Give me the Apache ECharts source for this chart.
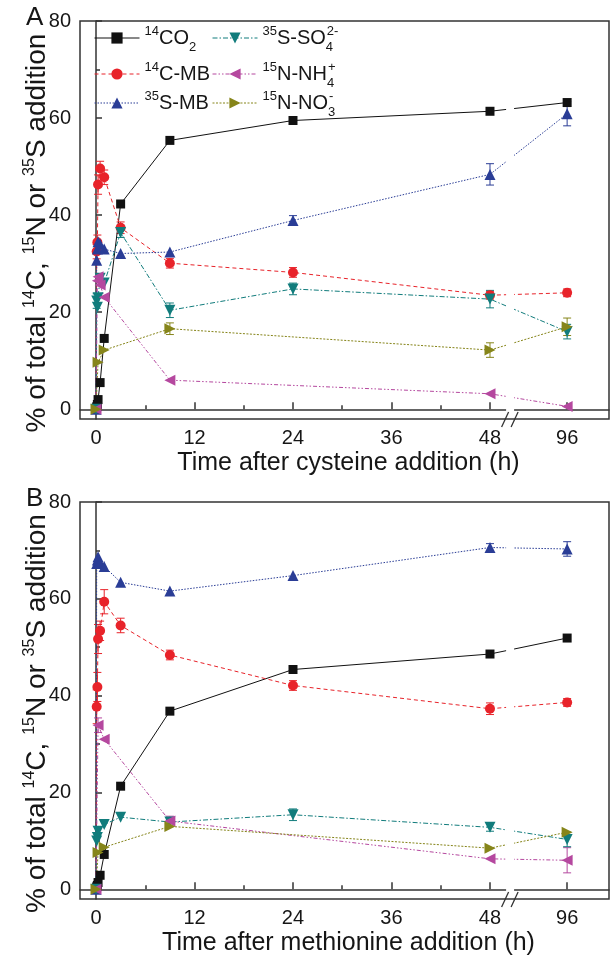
<!DOCTYPE html>
<html>
<head>
<meta charset="utf-8">
<script src="https://cdn.jsdelivr.net/npm/echarts@6.0.0/dist/echarts.min.js"></script>
<style>
html,body{margin:0;padding:0;background:#fff;}
#chart{width:611px;height:957px;}
</style>
</head>
<body>
<div id="chart"></div>
<script>
// ---------------- DATA ----------------
const HOURS = [0, 0.083, 0.167, 0.25, 0.5, 1, 3, 9, 24, 48, 96];
const X_TICK_HOURS = [0, 12, 24, 36, 48, 96];
const X_TICK_LABELS = ['0', '12', '24', '36', '48', '96'];
const X_MINOR_HOURS = [6, 18, 30, 42];
const Y_TICKS = [0, 20, 40, 60, 80];
const Y_MINOR = [10, 30, 50, 70];
const SERIES_NAMES = ['14CO2', '14C-MB', '35S-MB', '35S-SO42-', '15N-NH4+', '15N-NO3-'];

// Panel A: cysteine
const A_CO2 = [0, 0.5, 1.0, 2.0, 5.5, 14.6, 42.3, 55.4, 59.5, 61.4, 63.2];
const A_CMB = [0, 32.5, 34.4, 46.3, 49.6, 47.8, 37.4, 30.1, 28.2, 23.5, 24.0];
const A_SMB = [0, 30.7, 33.0, 34.5, 34.0, 33.0, 32.1, 32.4, 38.9, 48.4, 60.9];
const A_SO4 = [0, 22.3, 21.0, 23.0, 27.0, 26.0, 36.4, 20.4, 24.8, 22.7, 16.0];
const A_NH4 = [0, null, 26.5, 27.3, 25.6, 23.1, null, 6.0, null, 3.2, 0.6];
const A_NO3 = [0, null, null, 9.7, null, 12.2, null, 16.6, null, 12.2, 17.0];
const A_CMB_ERR = [0, 1.5, 1.5, 2.0, 1.5, 1.5, 1.2, 1.0, 1.0, 0.8, 0.8];
const A_SMB_ERR = [0, 0, 0, 0, 0, 0, 0, 0, 1.0, 2.2, 2.5];
const A_SO4_ERR = [0, 1.5, 0, 0, 0, 0, 1.0, 1.5, 1.2, 1.8, 1.5];
const A_NO3_ERR = [0, 0, 0, 0, 0, 0, 0, 1.2, 0, 1.5, 1.8];

// Panel B: methionine
const B_CO2 = [0, 0.5, 0.8, 1.4, 2.9, 7.2, 21.3, 36.8, 45.4, 48.6, 51.9];
const B_CMB = [0, 37.7, 41.8, 51.7, 53.4, 59.4, 54.5, 48.4, 42.1, 37.3, 38.6];
const B_SMB = [0, 67.3, 68.0, 68.7, 67.5, 66.7, 63.4, 61.6, 64.8, 70.6, 70.3];
const B_SO4 = [0, 10.0, 10.7, 12.0, null, 13.4, 14.9, 13.9, 15.4, 12.8, 10.3];
const B_NH4 = [0, null, null, 33.9, null, 31.0, null, 14.1, null, 6.3, 6.0];
const B_NO3 = [0, null, null, 7.6, null, 8.7, null, 13.0, null, 8.5, 11.8];
const B_CMB_ERR = [0, 3.5, 3.0, 3.0, 2.0, 2.5, 1.5, 1.0, 1.0, 1.2, 0.8];
const B_SMB_ERR = [0, 0, 0, 0, 0, 0, 0, 0, 0, 0.8, 1.5];
const B_NH4_ERR = [0, 0, 0, 1.5, 0, 0, 0, 1.0, 0, 0, 2.6];
const B_SO4_ERR = [0, 0, 0, 0, 0, 0, 0, 0, 1.2, 0.8, 1.5];

// ---------------- AXIS BREAK MAPPING ----------------
const BREAK_FROM = 48;
const AFTER_BREAK_SCALE = 9.4 / 48;   // 48..96 h compressed after the break
const BREAK_MARK = 50.45;             // display position of the "//" mark
function disp(t) { return t <= BREAK_FROM ? t : BREAK_FROM + (t - BREAK_FROM) * AFTER_BREAK_SCALE; }
const X_MIN = -1.95, X_MAX = 62.5, Y_MIN = -2, Y_MAX = 80;
const X_TICK_POS = X_TICK_HOURS.map(disp);
const X_MINOR_POS = X_MINOR_HOURS.map(disp);

// ---------------- STYLE ----------------
const FONT = "'Liberation Sans', Arial, Helvetica, sans-serif";
const TXT = '#161616';
const AX = '#333';
const STYLES = {
  '14CO2':     {color: '#111111', symbol: 'rect',     size: 9,  rot: 0,   dash: 'solid'},
  '14C-MB':    {color: '#e8232a', symbol: 'circle',   size: 10, rot: 0,   dash: [4, 3]},
  '35S-MB':    {color: '#2a3d96', symbol: 'triangle', size: 11, rot: 0,   dash: [1.5, 1.5]},
  '35S-SO42-': {color: '#117c7c', symbol: 'triangle', size: 11, rot: 180, dash: [5, 2, 1.5, 2]},
  '15N-NH4+':  {color: '#b5489f', symbol: 'triangle', size: 11, rot: 90,  dash: [4, 2, 1.5, 2, 1.5, 2]},
  '15N-NO3-':  {color: '#86851a', symbol: 'triangle', size: 11, rot: -90, dash: [2, 1.5]}
};
const LEGEND_TEXT = {
  '14CO2':     '{sup|14}{t|CO}{sub|2}',
  '14C-MB':    '{sup|14}{t|C-MB}',
  '35S-MB':    '{sup|35}{t|S-MB}',
  '35S-SO42-': '{sup|35}{t|S-SO}{subz|4}{sup|2-}',
  '15N-NH4+':  '{sup|15}{t|N-NH}{subz|4}{sup|+}',
  '15N-NO3-':  '{sup|15}{t|N-NO}{subz|3}{sup|-}'
};

const chart = echarts.init(document.getElementById('chart'), null, {renderer: 'canvas'});

function lineSeries(name, vals, g) {
  const s = STYLES[name];
  return {
    name: name, type: 'line', xAxisIndex: g * 2, yAxisIndex: g * 2,
    data: HOURS.map((h, i) => vals[i] == null ? null : [disp(h), vals[i]]).filter(d => d),
    symbol: s.symbol, symbolSize: s.size, symbolRotate: s.rot,
    itemStyle: {color: s.color}, lineStyle: {color: s.color, width: 1, type: s.dash},
    animation: false, z: 3
  };
}
function errSeries(name, vals, errs, g) {
  const s = STYLES[name];
  const data = [];
  HOURS.forEach((h, i) => { if (vals[i] != null && errs[i] > 0) data.push([disp(h), vals[i] - errs[i], vals[i] + errs[i]]); });
  return {
    type: 'custom', xAxisIndex: g * 2, yAxisIndex: g * 2, data: data, z: 2, animation: false, silent: true,
    encode: {x: 0, y: [1, 2]},
    renderItem: function (params, api) {
      const x = api.value(0);
      const p1 = api.coord([x, api.value(2)]);
      const p2 = api.coord([x, api.value(1)]);
      const w = 4;
      const st = {stroke: s.color, lineWidth: 1};
      return {type: 'group', children: [
        {type: 'line', shape: {x1: p1[0], y1: p1[1], x2: p2[0], y2: p2[1]}, style: st},
        {type: 'line', shape: {x1: p1[0] - w, y1: p1[1], x2: p1[0] + w, y2: p1[1]}, style: st},
        {type: 'line', shape: {x1: p2[0] - w, y1: p2[1], x2: p2[0] + w, y2: p2[1]}, style: st}
      ]};
    }
  };
}
function breakSeries(g) {
  return {
    type: 'custom', xAxisIndex: g * 2, yAxisIndex: g * 2, data: [[BREAK_MARK, 0]], z: 10, clip: false,
    silent: true, animation: false,
    renderItem: function (params, api) {
      const cs = params.coordSys;
      const xc = api.coord([api.value(0), 0])[0];
      const yb = cs.y + cs.height;
      const st = {stroke: AX, lineWidth: 1.3};
      return {type: 'group', children: [
        {type: 'rect', shape: {x: xc - 4, y: cs.y + 2, width: 8, height: cs.height - 4}, style: {fill: '#fff'}},
        {type: 'line', shape: {x1: xc - 8.5, y1: yb + 8, x2: xc - 1.5, y2: yb - 7}, style: st},
        {type: 'line', shape: {x1: xc + 1, y1: yb + 8, x2: xc + 8, y2: yb - 7}, style: st}
      ]};
    }
  };
}

function xAxes(g, title) {
  return [{
    gridIndex: g, type: 'value', min: X_MIN, max: X_MAX, position: 'bottom',
    name: title, nameLocation: 'middle', nameGap: 32, nameMoveOverlap: false,
    nameTextStyle: {fontSize: 25, color: TXT, fontFamily: FONT, padding: [0, 0, 0, 8]},
    axisLine: {lineStyle: {color: AX, width: 1.5}},
    axisTick: {inside: true, length: 7, customValues: X_TICK_POS, lineStyle: {color: AX, width: 1.5}},
    axisLabel: {customValues: X_TICK_POS, fontSize: 20, color: TXT, fontFamily: FONT, margin: 9,
      formatter: function (v) { const i = X_TICK_POS.findIndex(p => Math.abs(p - v) < 1e-6); return i >= 0 ? X_TICK_LABELS[i] : ''; }},
    splitLine: {show: false}
  }, {
    gridIndex: g, type: 'value', min: X_MIN, max: X_MAX, position: 'bottom',
    axisLine: {show: false},
    axisTick: {inside: true, length: 4, customValues: X_MINOR_POS, lineStyle: {color: AX, width: 1.5}},
    axisLabel: {show: false}, splitLine: {show: false}
  }];
}
const Y_NAME = '{t|% of total }{s|14}{t|C, }{s|15}{t|N or }{s|35}{t|S addition}';
function yAxes(g) {
  return [{
    gridIndex: g, type: 'value', min: Y_MIN, max: Y_MAX, position: 'left',
    name: Y_NAME, nameLocation: 'middle', nameGap: 28, nameRotate: 90, nameMoveOverlap: false,
    nameTextStyle: {padding: [0, 26, 0, 0], rich: {
      t: {fontSize: 28, color: TXT, fontFamily: FONT, lineHeight: 30, verticalAlign: 'middle'},
      s: {fontSize: 16, color: TXT, fontFamily: FONT, lineHeight: 30, verticalAlign: 'top'}
    }},
    axisLine: {lineStyle: {color: AX, width: 1.5}},
    axisTick: {inside: true, length: 6, customValues: Y_TICKS, lineStyle: {color: AX, width: 1.5}},
    axisLabel: {customValues: Y_TICKS, fontSize: 20, color: TXT, fontFamily: FONT, margin: 9},
    splitLine: {show: false}
  }, {
    gridIndex: g, type: 'value', min: Y_MIN, max: Y_MAX, position: 'left',
    axisLine: {show: false},
    axisTick: {inside: true, length: 4, customValues: Y_MINOR, lineStyle: {color: AX, width: 1.5}},
    axisLabel: {show: false}, splitLine: {show: false}
  }];
}

const LEGEND_POS = {
  '14CO2': [94, 38], '14C-MB': [94, 74], '35S-MB': [94, 103],
  '35S-SO42-': [212, 38], '15N-NH4+': [212, 74], '15N-NO3-': [212, 103]
};
const legends = SERIES_NAMES.map(n => ({
  data: [n], left: LEGEND_POS[n][0], top: LEGEND_POS[n][1] - 13, orient: 'vertical',
  padding: 0, itemWidth: 45, itemHeight: 14, itemGap: 0, selectedMode: false,
  lineStyle: {width: 1},
  formatter: function (name) { return LEGEND_TEXT[name]; },
  textStyle: {padding: [0, 0, 0, 0], rich: {
    t: {fontSize: 20, color: TXT, fontFamily: FONT, lineHeight: 26, verticalAlign: 'middle'},
    sup: {fontSize: 13, color: TXT, fontFamily: FONT, lineHeight: 26, verticalAlign: 'top'},
    sub: {fontSize: 13, color: TXT, fontFamily: FONT, lineHeight: 26, verticalAlign: 'bottom', padding: [0, 0, -3, 0]},
    subz: {fontSize: 13, color: TXT, fontFamily: FONT, lineHeight: 26, verticalAlign: 'bottom', padding: [0, 0, -3, 0], width: 1}
  }}
}));

const option = {
  backgroundColor: '#fff',
  animation: false,
  title: [
    {text: 'A', left: 26, top: 5, padding: 0, textStyle: {fontSize: 26, fontWeight: 'normal', color: TXT, fontFamily: FONT}},
    {text: 'B', left: 26, top: 486, padding: 0, textStyle: {fontSize: 26, fontWeight: 'normal', color: TXT, fontFamily: FONT}}
  ],
  legend: legends,
  grid: [
    {left: 80, top: 21, width: 529, height: 398, show: true, borderColor: AX, borderWidth: 1.5, backgroundColor: 'transparent'},
    {left: 80, top: 502, width: 529, height: 399, show: true, borderColor: AX, borderWidth: 1.5, backgroundColor: 'transparent'}
  ],
  xAxis: xAxes(0, 'Time after cysteine addition (h)').concat(xAxes(1, 'Time after methionine addition (h)')),
  yAxis: yAxes(0).concat(yAxes(1)),
  series: [
    lineSeries('14CO2', A_CO2, 0), lineSeries('14C-MB', A_CMB, 0), lineSeries('35S-MB', A_SMB, 0),
    lineSeries('35S-SO42-', A_SO4, 0), lineSeries('15N-NH4+', A_NH4, 0), lineSeries('15N-NO3-', A_NO3, 0),
    errSeries('14C-MB', A_CMB, A_CMB_ERR, 0), errSeries('35S-MB', A_SMB, A_SMB_ERR, 0),
    errSeries('35S-SO42-', A_SO4, A_SO4_ERR, 0), errSeries('15N-NO3-', A_NO3, A_NO3_ERR, 0),
    breakSeries(0),
    lineSeries('14CO2', B_CO2, 1), lineSeries('14C-MB', B_CMB, 1), lineSeries('35S-MB', B_SMB, 1),
    lineSeries('35S-SO42-', B_SO4, 1), lineSeries('15N-NH4+', B_NH4, 1), lineSeries('15N-NO3-', B_NO3, 1),
    errSeries('14C-MB', B_CMB, B_CMB_ERR, 1), errSeries('35S-MB', B_SMB, B_SMB_ERR, 1),
    errSeries('15N-NH4+', B_NH4, B_NH4_ERR, 1), errSeries('35S-SO42-', B_SO4, B_SO4_ERR, 1),
    breakSeries(1)
  ]
};
chart.setOption(option);
</script>
</body>
</html>
